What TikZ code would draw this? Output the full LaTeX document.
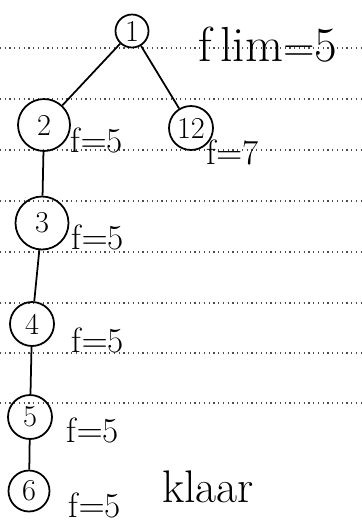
\documentclass[tikz,border=0pt]{standalone}
\usetikzlibrary{positioning}

\begin{document}
\begin{tikzpicture}[x=0.02cm,y=-0.02cm,
  circ/.style={draw,circle,line width=1pt,inner sep=0pt,minimum size=0.88cm,font=\LARGE},
  lbl/.style={font=\fontsize{20}{24}\selectfont},
  edge/.style={line width=1pt}]
\useasboundingbox (0,0) rectangle (362,529);
\foreach \y in {48,99,150,201,252,303,353,403}
  \draw[dotted,black!70,line width=0.7pt] (0,\y) -- (362,\y);
\node[circ,minimum size=0.66cm] (n1) at (132,31) {1};
\node[circ,minimum size=1.04cm] (n2) at (44,125) {2};
\node[circ] (n12) at (191,128) {12};
\node[circ,minimum size=1.06cm] (n3) at (42,223) {3};
\node[circ] (n4) at (32,324) {4};
\node[circ] (n5) at (30,417) {5};
\node[circ,minimum size=0.82cm] (n6) at (29,491) {6};
\node[font=\fontsize{28}{32}\selectfont] (flim) at (268,45) {f\,lim$=$5};
\node[lbl] (f2) at (97,140) {f$=$5};
\node[lbl,anchor=west,inner sep=0pt] (f12) at (206,152) {f$=$7};
\node[lbl] (f3) at (98,237) {f$=$5};
\node[lbl] (f4) at (98,340) {f$=$5};
\node[lbl] (f5) at (93,430) {f$=$5};
\node[lbl] (f6) at (95,505) {f$=$5};
\node[font=\fontsize{26}{30}\selectfont] (klaar) at (208,487) {klaar};
\draw[edge] (n1) -- (n2);
\draw[edge] (n1) -- (n12);
\draw[edge] (n2) -- (n3);
\draw[edge] (n3) -- (n4);
\draw[edge] (n4) -- (n5);
\draw[edge] (n5) -- (n6);
\end{tikzpicture}
\end{document}
